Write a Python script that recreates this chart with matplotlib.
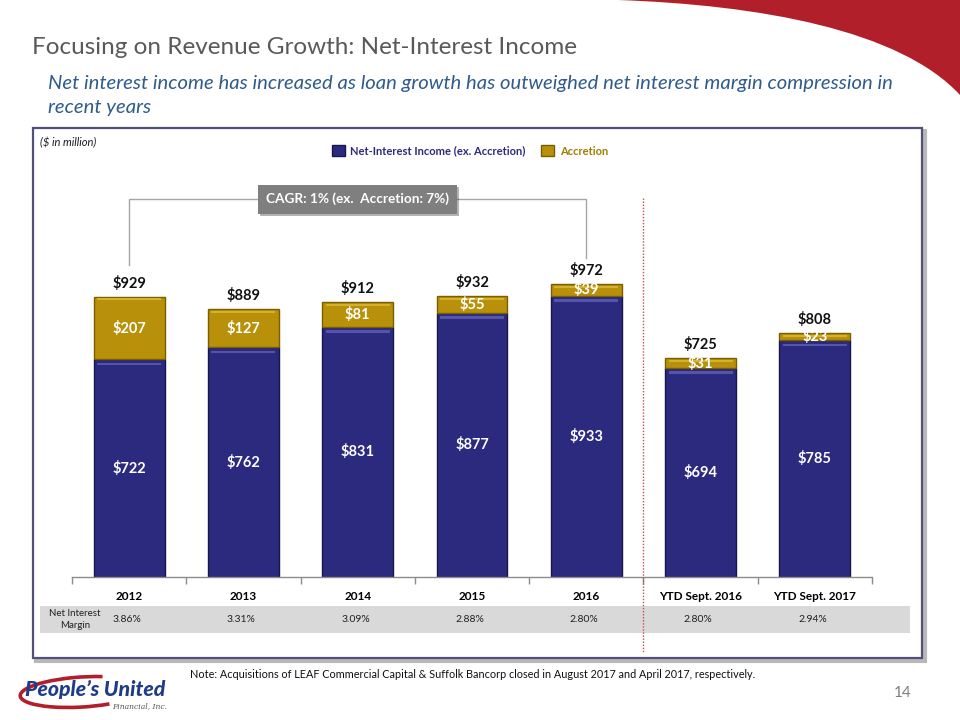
import matplotlib
matplotlib.use("Agg")
import matplotlib.pyplot as plt
import numpy as np
from matplotlib.patches import Rectangle, Patch, PathPatch, Arc
from matplotlib.path import Path
from matplotlib.lines import Line2D
from matplotlib.transforms import blended_transform_factory
import matplotlib.patheffects as pe

plt.rcParams['font.family'] = ['Lato', 'DejaVu Sans']

# ---------------- data ----------------
categories = ['2012', '2013', '2014', '2015', '2016', 'YTD Sept. 2016', 'YTD Sept. 2017']
nii_ex_accretion = [722, 762, 831, 877, 933, 694, 785]
accretion = [207, 127, 81, 55, 39, 31, 23]
totals = [929, 889, 912, 932, 972, 725, 808]
nim_labels = ['3.86%', '3.31%', '3.09%', '2.88%', '2.80%', '2.80%', '2.94%']
cagr_text = 'CAGR: 1% (ex.  Accretion: 7%)'

NAVY = '#2B2A7F'
NAVY_EDGE = '#17164d'
NAVY_HL = '#5454ad'
GOLD = '#B8900A'
GOLD_EDGE = '#7a5e00'
GOLD_HL = '#d6b22c'

W, H = 960, 720
fig = plt.figure(figsize=(9.6, 7.2), dpi=100)


def fx(x):
    return x / W


def fy(y):
    return 1 - y / H


# ---------------- decorations ----------------
# red swoosh top-right
verts = [(fx(618), fy(0)), (fx(760), fy(5)), (fx(900), fy(30)), (fx(960), fy(95)),
         (fx(960), fy(0)), (fx(618), fy(0))]
codes = [Path.MOVETO, Path.CURVE4, Path.CURVE4, Path.CURVE4, Path.LINETO, Path.CLOSEPOLY]
fig.add_artist(PathPatch(Path(verts, codes), transform=fig.transFigure,
                         fc='#B01F2A', ec='none'))

# panel shadow and border
fig.add_artist(Rectangle((fx(36), fy(661)), fx(889), 530 / H, transform=fig.transFigure,
                         fc='none', ec='#b8b8b8', lw=3, zorder=0))
fig.add_artist(Rectangle((fx(33), fy(658)), fx(889), 530 / H, transform=fig.transFigure,
                         fc='white', ec='#50507a', lw=1.6, zorder=0.5))

# titles
fig.text(fx(32), fy(47), 'Focusing on Revenue Growth: Net-Interest Income',
         fontsize=17.5, color='#595959', va='center', ha='left')
fig.text(fx(48), fy(84),
         'Net interest income has increased as loan growth has outweighed net interest margin compression in',
         fontsize=14.6, style='italic', color='#2E5B8C', va='center', ha='left')
fig.text(fx(48), fy(107), 'recent years',
         fontsize=14.6, style='italic', color='#2E5B8C', va='center', ha='left')

fig.text(fx(40), fy(143), '($ in million)', fontsize=8, style='italic',
         color='#1a1a1a', va='center', ha='left')

# ---------------- axes ----------------
ax = fig.add_axes([72 / W, fy(577), 800 / W, 392 / H])
ax.set_zorder(2)
ax.patch.set_alpha(0)
x = np.arange(len(categories))
ppu = 0.3014  # pixels per unit
ax.set_xlim(-0.5, len(categories) - 0.5)
ax.set_ylim(0, 392 / ppu)

bw = 0.62
nii = np.array(nii_ex_accretion)
acc = np.array(accretion)
tot = np.array(totals)

ax.bar(x, nii, width=bw, color=NAVY, edgecolor=NAVY_EDGE, linewidth=1.0, zorder=2)
ax.bar(x, acc, bottom=nii, width=bw, color=GOLD, edgecolor=GOLD_EDGE, linewidth=1.0, zorder=2)
# bevel highlights
ax.bar(x, 2.5 / ppu, bottom=nii - 6 / ppu, width=bw - 0.06, color=NAVY_HL, linewidth=0, zorder=3)
ax.bar(x, 2.0 / ppu, bottom=tot - 3.5 / ppu, width=bw - 0.06, color=GOLD_HL, linewidth=0, zorder=3)

for i in range(len(categories)):
    ax.annotate(f'${totals[i]}', xy=(i, tot[i]), xytext=(0, 10), textcoords='offset points',
                ha='center', va='center', fontsize=10.5, fontweight='bold', color='#111111')
    ax.text(i, nii[i] + acc[i] / 2, f'${accretion[i]}', ha='center', va='center',
            fontsize=10.5, fontweight='bold', color='white', zorder=4)
    ax.text(i, nii[i] / 2, f'${nii_ex_accretion[i]}', ha='center', va='center',
            fontsize=10.5, fontweight='bold', color='white', zorder=4)

for s in ['left', 'right', 'top']:
    ax.spines[s].set_visible(False)
ax.spines['bottom'].set_color('#8c8c8c')
ax.spines['bottom'].set_linewidth(1.0)
ax.set_yticks([])
ax.set_xticks(x)
ax.set_xticklabels(categories, fontsize=8.5, fontweight='bold')
ax.tick_params(axis='x', which='major', length=0, pad=10)
ax.set_xticks(np.arange(-0.5, len(categories)), minor=True)
ax.tick_params(axis='x', which='minor', length=5, color='#8c8c8c', width=1.0)

# CAGR bracket
ax.plot([0, 0, 4, 4], [1035, 1254, 1254, 1058], color='#A6A6A6', lw=1.0, clip_on=False, zorder=1)
t = ax.text(2, 1254, cagr_text, ha='center', va='center', color='white', fontweight='bold',
            fontsize=9.8, zorder=5,
            bbox=dict(boxstyle='square,pad=0.6', fc='#7F7F7F', ec='none'))
t.get_bbox_patch().set_path_effects([pe.SimplePatchShadow(offset=(1.5, -1.5), alpha=0.35),
                                     pe.Normal()])

# dotted separator
btr = blended_transform_factory(ax.transData, fig.transFigure)
fig.add_artist(Line2D([4.5, 4.5], [fy(198), fy(652)], transform=btr, color='#C0504D',
                      lw=1.0, linestyle=(0, (1, 1.2)), zorder=3))

# legend
handles = [Patch(fc=NAVY, ec=NAVY_EDGE), Patch(fc=GOLD, ec=GOLD_EDGE)]
leg = fig.legend(handles, ['Net-Interest Income (ex. Accretion)', 'Accretion'],
                 loc='center', bbox_to_anchor=(fx(470), fy(151)), ncol=2, frameon=False,
                 handlelength=1.15, handleheight=1.15, handletextpad=0.5, columnspacing=1.4,
                 prop={'size': 8, 'weight': 'bold'})
leg.get_texts()[0].set_color(NAVY)
leg.get_texts()[1].set_color('#A07C00')

# NIM row
fig.add_artist(Rectangle((fx(40), fy(633)), fx(870), 27 / H, transform=fig.transFigure,
                         fc='#D9D9D9', ec='none', zorder=1))
fig.text(fx(75), fy(619.5), 'Net Interest\nMargin', ha='center', va='center', fontsize=7,
         color='#222222', linespacing=1.3)
for i, lab in enumerate(nim_labels):
    ax.text(i - 0.02, fy(620), lab, transform=btr, ha='center', va='center', fontsize=7.5,
            color='#222222')

# note
fig.text(fx(190), fy(675), 'Note: Acquisitions of LEAF Commercial Capital & Suffolk Bancorp closed in '
         'August 2017 and April 2017, respectively.', fontsize=7.85, color='#111111',
         ha='left', va='center')
fig.text(fx(912), fy(693), '14', fontsize=11, color='#7F7F7F', ha='right', va='center')

# logo
fig.add_artist(Arc((fx(82), fy(692)), 124 / W, 30 / H, angle=5, theta1=40, theta2=325,
                   transform=fig.transFigure, color='#B01F2A', lw=2.6))
fig.text(fx(25), fy(689), 'People\u2019s United', fontsize=15.3, fontweight='black',
         style='italic', color='#1F3C88', ha='left', va='center')
fig.text(fx(167), fy(706), 'Financial, Inc.', fontsize=5.5, style='italic',
         family='DejaVu Serif', color='#555555', ha='right', va='center')

fig.savefig('out.png', dpi=100)
